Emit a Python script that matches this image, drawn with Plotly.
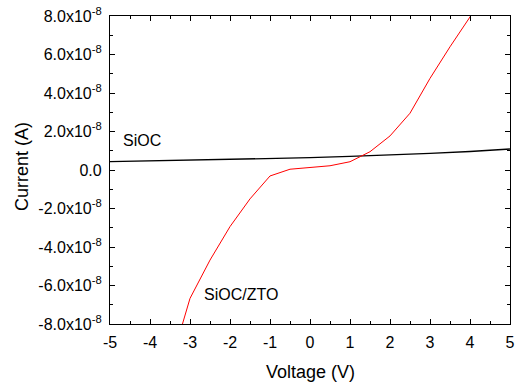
import plotly.graph_objects as go

# Data (current in A)
v_zto = [-3.5, -3.0, -2.5, -2.0, -1.5, -1.0, -0.5, 0.0, 0.5, 1.0, 1.5, 2.0, 2.5, 3.0, 3.5, 4.0, 4.5]
i_zto = [-10.2e-8, -6.67e-8, -4.68e-8, -2.94e-8, -1.5e-8, -0.31e-8, 0.04e-8, 0.12e-8, 0.22e-8,
         0.43e-8, 0.95e-8, 1.77e-8, 2.95e-8, 4.76e-8, 6.4e-8, 7.95e-8, 9.7e-8]

v_sioc = [-5, -4, -3, -2, -1, 0, 1, 2, 3, 4, 5]
i_sioc = [0.43e-8, 0.47e-8, 0.51e-8, 0.54e-8, 0.59e-8, 0.64e-8, 0.71e-8, 0.78e-8, 0.86e-8, 0.96e-8, 1.09e-8]

x_ticks = [-5, -4, -3, -2, -1, 0, 1, 2, 3, 4, 5]
y_ticks = [-8e-8, -6e-8, -4e-8, -2e-8, 0, 2e-8, 4e-8, 6e-8, 8e-8]
y_ticktext = ["-8.0x10<sup>-8</sup>", "-6.0x10<sup>-8</sup>", "-4.0x10<sup>-8</sup>",
              "-2.0x10<sup>-8</sup>", "0.0", "2.0x10<sup>-8</sup>", "4.0x10<sup>-8</sup>",
              "6.0x10<sup>-8</sup>", "8.0x10<sup>-8</sup>"]

FONT = "Liberation Sans, Arial"

fig = go.Figure()
fig.add_trace(go.Scatter(x=v_sioc, y=i_sioc, mode="lines",
                         line=dict(color="black", width=1.3), showlegend=False))
fig.add_trace(go.Scatter(x=v_zto, y=i_zto, mode="lines",
                         line=dict(color="#ff0000", width=1), showlegend=False))

fig.add_annotation(x=-4.72, y=1.53e-8, text="SiOC", showarrow=False, xanchor="left",
                   font=dict(family=FONT, size=16, color="black"))
fig.add_annotation(x=-2.70, y=-6.49e-8, text="SiOC/ZTO", showarrow=False, xanchor="left",
                   font=dict(family=FONT, size=16, color="black"))

# axis titles
fig.add_annotation(xref="paper", yref="paper", x=0.5, y=-0.156, text="Voltage (V)",
                   showarrow=False, xanchor="center", yanchor="middle",
                   font=dict(family=FONT, size=18, color="black"))
fig.add_annotation(xref="paper", yref="paper", x=-0.22, y=0.51, text="Current (A)",
                   showarrow=False, xanchor="center", yanchor="middle", textangle=-90,
                   font=dict(family=FONT, size=18, color="black"))

axis_common = dict(showgrid=False, zeroline=False, showline=True, linecolor="black",
                   linewidth=1.3, mirror="allticks", ticks="inside", ticklen=5,
                   tickwidth=1.2, tickcolor="black", automargin=False,
                   ticklabeloverflow="allow", ticklabelstandoff=4,
                   tickfont=dict(family=FONT, size=16, color="black"))

fig.update_xaxes(range=[-5, 5], tickvals=x_ticks,
                 ticktext=[str(t) for t in x_ticks],
                 minor=dict(ticks="inside", ticklen=3, dtick=0.5, tickcolor="black", tickwidth=1),
                 **axis_common)
fig.update_yaxes(range=[-8e-8, 8e-8], tickvals=y_ticks, ticktext=y_ticktext,
                 minor=dict(ticks="inside", ticklen=3, dtick=1e-8, tickcolor="black", tickwidth=1),
                 **axis_common)

fig.update_layout(width=515, height=385, margin=dict(l=110, r=5, t=16, b=61),
                  plot_bgcolor="white", paper_bgcolor="white",
                  font=dict(family=FONT, color="black"))

# remove the default page margin so the figure fills the window exactly
fig.write_html("out.html", config={"displayModeBar": False},
               post_script="document.body.style.margin='0';document.body.style.overflow='hidden';")
